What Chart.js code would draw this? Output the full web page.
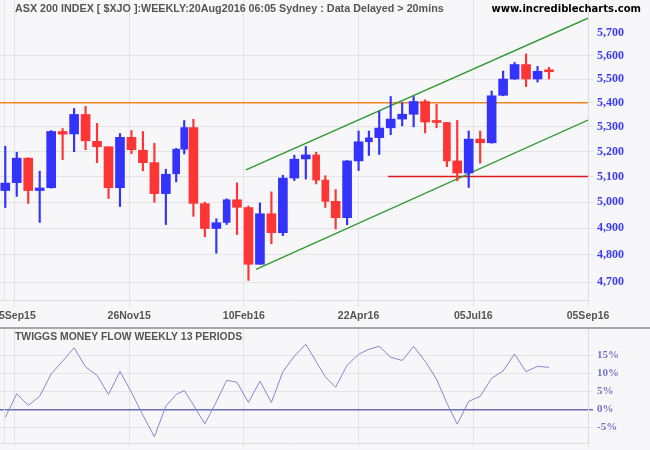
<!DOCTYPE html>
<html>
<head>
<meta charset="utf-8">
<title>ASX 200 weekly</title>
<script src="https://cdn.jsdelivr.net/npm/chart.js@4.4.1/dist/chart.umd.min.js"></script>
<style>
  html, body { margin: 0; padding: 0; background: #f7f7f9; }
  #wrap { width: 650px; height: 450px; }
  #priceBox { width: 650px; height: 327px; position: relative; }
  #sep { width: 650px; height: 2px; background: #a8a8a8; }
  #flowBox { width: 650px; height: 121px; position: relative; }
</style>
</head>
<body>
<div id="wrap">
  <div id="priceBox"><canvas id="priceChart"></canvas></div>
  <div id="sep"></div>
  <div id="flowBox"><canvas id="flowChart"></canvas></div>
</div>
<script>
// trading days in each weekly bar (holiday weeks are shorter on the axis)
const weekDays = [5,5,5,5,5, 5,5,5,5,5, 5,5,5,5,5, 4,3,5,5,5, 4,5,5,5,5, 5,5,5,4,4, 5,5,5,4,5, 5,5,5,5,5, 4,5,5,5,5, 5,5,5,5,5];

const openPx  = [5045,5076,5173,5045,5056,5281,5271,5351,5241,5219, 5056,5257,5205,5155,5033,5111,5209,5297,4994,4899,
                 4922,5009,4979,4765,4955,4883,5094,5170,5186,5086, 5003,4940,5162,5239,5256,5296,5332,5352,5405,5320,
                 5318,5162,5114,5250,5235,5431,5500,5562,5500,5533];
const highPx  = [5221,5197,5175,5121,5285,5293,5376,5385,5314,5219, 5273,5285,5281,5233,5129,5213,5326,5331,5000,4936,
                 5013,5075,4985,4997,5040,5105,5185,5220,5197,5103, 5049,5164,5283,5283,5364,5426,5400,5426,5412,5393,
                 5318,5327,5283,5283,5449,5534,5571,5608,5554,5550];
const lowPx   = [4979,5022,4995,4922,5054,5167,5199,5207,5155,5014, 4983,5191,5123,4999,4914,5079,5190,4945,4868,4806,
                 4914,4876,4706,4765,4841,4872,5084,5090,5071,4979, 4897,4913,5124,5184,5188,5268,5304,5300,5275,5296,
                 5139,5083,5057,5153,5233,5429,5498,5468,5487,5500];
const closePx = [5074,5173,5045,5055,5281,5270,5351,5243,5219,5056, 5257,5207,5155,5033,5109,5209,5297,4995,4899,4921,
                 5009,4980,4765,4955,4883,5094,5169,5186,5086,5003, 4940,5162,5239,5255,5295,5332,5352,5405,5320,5318,
                 5162,5114,5250,5235,5429,5500,5562,5500,5533,5531];

// Twiggs Money Flow (13 weeks), percent
const moneyFlow = [-2.2,4.3,1.1,3.6,9.8,13.3,17.0,11.7,9.4,4.1, 10.5,4.7,-1.6,-7.6,0.9,4.1,5.2,1.2,-4.0,2.1,
                   8.0,7.5,1.9,7.8,1.9,10.4,14.7,18.0,13.2,9.0, 6.1,12.2,15.2,16.6,17.4,14.4,13.5,17.4,13.3,8.3,
                   1.7,-4.1,2.2,3.6,8.6,10.6,15.3,10.4,11.9,11.6];

// axis ticks (x in trading days from 07Sep15)
const xTickDays   = [6.5, 56.5, 106.5, 156.5, 206.5, 256.5];
const xTickLabels = ['15Sep15', '26Nov15', '10Feb16', '22Apr16', '05Jul16', '05Sep16'];
const priceTicks  = [4700, 4800, 4900, 5000, 5100, 5200, 5300, 5400, 5500, 5600, 5700];
const flowTicks   = [-5, 0, 5, 10, 15];

// drawn lines: trend channel and horizontal levels [day, price]
const upperChannel = [[107.4, 5126], [256.5, 5765]];
const lowerChannel = [[111.8, 4746], [256.5, 5328]];
const resistLevel  = [[0.2, 5400], [256.5, 5400]];
const supportLevel = [[169.3, 5100], [256.5, 5100]];

const X_MIN = 0.2, X_MAX = 256.5;

// middle of each week on the trading-day axis
const weekMid = [];
let dayCount = 0;
weekDays.forEach(d => { weekMid.push(dayCount + d / 2); dayCount += d; });

const BLUE = '#3333fb';
const RED = '#fd3535';
const GRID = '#e4e4e8';

const candleColor = i => closePx[i] >= openPx[i] ? BLUE : RED;
const toPoints = arr => arr.map(p => ({ x: p[0], y: p[1] }));
const withComma = v => String(v).replace(/\B(?=(\d{3})+(?!\d))/g, ',');

function bodies(filterFn) {
    const idx = weekMid.map((m, i) => i).filter(filterFn);
    return {
        data: idx.map(i => ({ x: weekMid[i], y: [openPx[i], closePx[i]] })),
        colors: idx.map(i => candleColor(i))
    };
}
const fullWeeks = bodies(i => weekDays[i] === 5);
const shortWeeks = bodies(i => weekDays[i] !== 5);

const panelText = {
    id: 'panelText',
    beforeDatasetsDraw(chart, args, opts) {
        const c = chart.ctx;
        const a = chart.chartArea;
        c.save();
        c.strokeStyle = GRID;
        c.lineWidth = 1;
        c.beginPath();
        c.moveTo(opts.edgeX + 0.5, a.top);
        c.lineTo(opts.edgeX + 0.5, a.bottom);
        c.stroke();
        c.restore();
    },
    afterDraw(chart, args, opts) {
        const c = chart.ctx;
        c.save();
        (opts.items || []).forEach(t => {
            c.font = t.font;
            c.fillStyle = t.color;
            c.textAlign = t.align || 'left';
            c.textBaseline = 'alphabetic';
            c.fillText(t.text, t.x, t.y);
        });
        c.restore();
    }
};

const xAxis = (height, showLabels) => ({
    type: 'linear',
    min: X_MIN,
    max: X_MAX,
    bounds: 'data',
    offset: false,
    stacked: true,
    afterBuildTicks: s => { s.ticks = xTickDays.map(v => ({ value: v })); },
    afterFit: s => { s.height = height; s.paddingLeft = 0; s.paddingRight = 0; },
    ticks: {
        display: showLabels,
        autoSkip: false,
        maxRotation: 0,
        padding: 3,
        color: '#555555',
        font: { family: '"Liberation Sans", Arial, sans-serif', size: 10.5, weight: 'bold' },
        callback: (v, i) => xTickLabels[i]
    },
    grid: { color: GRID, tickLength: showLabels ? 7 : 4, offset: false },
    border: { color: '#dcdce0' }
});

new Chart(document.getElementById('priceChart'), {
    type: 'bar',
    data: {
        datasets: [
            {
                label: 'Body',
                data: fullWeeks.data,
                backgroundColor: fullWeeks.colors,
                barThickness: 9,
                minBarLength: 2,
                order: 0
            },
            {
                label: 'Body (short week)',
                data: shortWeeks.data,
                backgroundColor: shortWeeks.colors,
                barThickness: 7,
                minBarLength: 2,
                order: 0
            },
            {
                label: 'Range',
                data: weekMid.map((m, i) => ({ x: m, y: [lowPx[i], highPx[i]] })),
                backgroundColor: weekMid.map((m, i) => candleColor(i)),
                barThickness: 1.5,
                order: 1
            },
            { type: 'line', label: 'Upper', data: toPoints(upperChannel), borderColor: '#2f9a2f', borderWidth: 1.4, pointRadius: 0, order: 2 },
            { type: 'line', label: 'Lower', data: toPoints(lowerChannel), borderColor: '#2f9a2f', borderWidth: 1.4, pointRadius: 0, order: 2 },
            { type: 'line', label: '5400', data: toPoints(resistLevel), borderColor: '#f0851f', borderWidth: 1.6, pointRadius: 0, order: 3 },
            { type: 'line', label: '5100', data: toPoints(supportLevel), borderColor: '#e01a1a', borderWidth: 1.6, pointRadius: 0, order: 2 }
        ]
    },
    options: {
        responsive: true,
        maintainAspectRatio: false,
        animation: false,
        layout: { padding: 0 },
        plugins: {
            legend: { display: false },
            tooltip: { enabled: false },
            panelText: {
                edgeX: 4,
                items: [
                    { text: 'ASX 200 INDEX [ $XJO ]:WEEKLY:20Aug2016 06:05 Sydney : Data Delayed > 20mins',
                      x: 15, y: 12, color: '#555555', font: 'bold 10.75px "Liberation Sans", Arial, sans-serif' },
                    { text: 'www.incrediblecharts.com', x: 641, y: 12, align: 'right',
                      color: '#000000', font: 'bold 10px "DejaVu Sans", Verdana, sans-serif' }
                ]
            }
        },
        scales: {
            x: xAxis(27, true),
            y: {
                type: 'logarithmic',
                position: 'right',
                min: 4635,
                max: 5847,
                bounds: 'data',
                afterBuildTicks: s => { s.ticks = priceTicks.map(v => ({ value: v })); },
                afterFit: s => { s.width = 62; s.paddingTop = 0; s.paddingBottom = 0; },
                ticks: {
                    padding: 4,
                    color: '#3c3cf0',
                    font: { family: '"Liberation Serif", "Times New Roman", serif', size: 12, weight: 'bold' },
                    callback: v => withComma(v)
                },
                grid: {
                    color: ctx => (ctx.tick && ctx.tick.value === 5700) ? 'rgba(0,0,0,0)' : GRID,
                    tickLength: 5
                },
                border: { color: '#dcdce0' }
            }
        }
    },
    plugins: [panelText]
});

new Chart(document.getElementById('flowChart'), {
    type: 'line',
    data: {
        datasets: [{
            label: 'Twiggs Money Flow',
            data: weekMid.map((m, i) => ({ x: m, y: moneyFlow[i] })),
            borderColor: '#8787cd',
            borderWidth: 1,
            pointRadius: 0,
            tension: 0
        }]
    },
    options: {
        responsive: true,
        maintainAspectRatio: false,
        animation: false,
        layout: { padding: 0 },
        plugins: {
            legend: { display: false },
            tooltip: { enabled: false },
            panelText: {
                edgeX: 4,
                items: [
                    { text: 'TWIGGS MONEY FLOW WEEKLY 13 PERIODS', x: 15, y: 11,
                      color: '#555555', font: 'bold 10.4px "Liberation Sans", Arial, sans-serif' }
                ]
            }
        },
        scales: {
            x: xAxis(7, false),
            y: {
                position: 'right',
                min: -9.3,
                max: 22.2,
                bounds: 'data',
                afterBuildTicks: s => { s.ticks = flowTicks.map(v => ({ value: v })); },
                afterFit: s => { s.width = 62; s.paddingTop = 0; s.paddingBottom = 0; },
                ticks: {
                    padding: 4,
                    color: '#7373c4',
                    font: { family: '"Liberation Serif", "Times New Roman", serif', size: 11, weight: 'bold' },
                    callback: v => v + '%'
                },
                grid: {
                    color: ctx => (ctx.tick && ctx.tick.value === 0) ? '#6c6cb8' : GRID,
                    lineWidth: ctx => (ctx.tick && ctx.tick.value === 0) ? 1.5 : 1,
                    tickLength: 5
                },
                border: { color: '#dcdce0' }
            }
        }
    },
    plugins: [panelText]
});
</script>
</body>
</html>
